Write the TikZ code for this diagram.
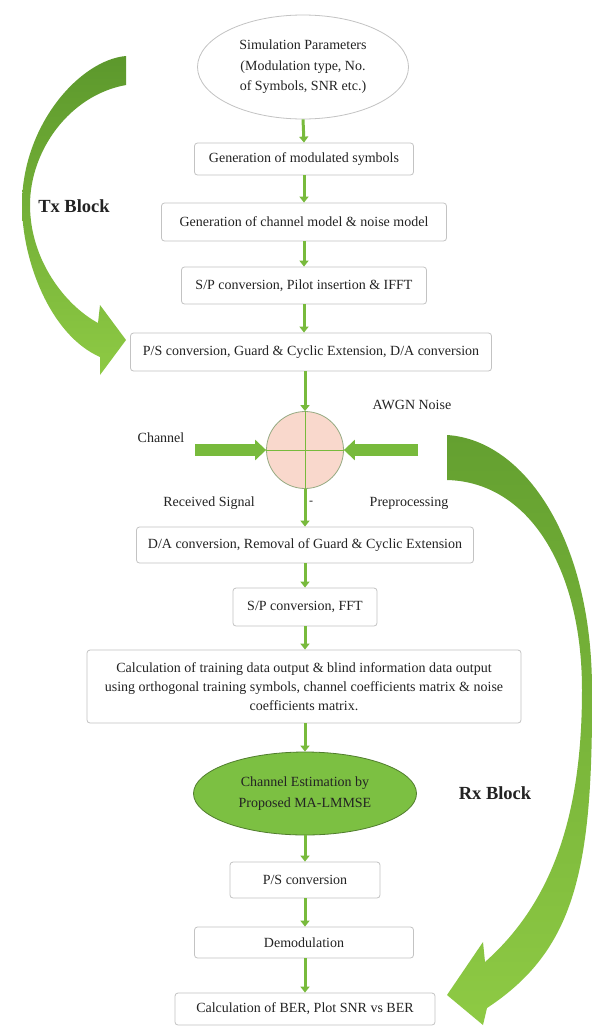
\documentclass[tikz,border=0pt]{standalone}
\usepackage{fontspec}
\setmainfont{Liberation Serif}
\usetikzlibrary{arrows.meta,shapes.geometric}
\definecolor{flowgreen}{RGB}{120,186,60}
\definecolor{txdark}{RGB}{92,152,44}
\definecolor{txlight}{RGB}{142,202,68}
\definecolor{rxdark}{RGB}{100,160,48}
\definecolor{rxlight}{RGB}{142,202,68}
\definecolor{boxline}{RGB}{195,195,195}
\definecolor{sumfill}{RGB}{249,216,204}
\definecolor{sumline}{RGB}{150,170,130}
\definecolor{estfill}{RGB}{124,192,66}
\definecolor{estline}{RGB}{80,125,45}
\definecolor{txt}{RGB}{35,35,35}
\begin{document}
\begin{tikzpicture}[x=1pt,y=-1pt,
  procbox/.style={draw=boxline, line width=0.8pt, rounded corners=3pt, fill=white,
    inner sep=0pt, align=center, text=txt, font=\fontsize{14}{19}\selectfont},
  flow/.style={draw=flowgreen, line width=3pt, -{Triangle[length=6pt,width=9pt]}},
  bigflow/.style={draw=flowgreen, line width=12pt, -{Triangle[length=11pt,width=20pt]}},
  lbl/.style={text=txt, font=\fontsize{14}{16}\selectfont, inner sep=0pt},
  blocklbl/.style={text=txt, font=\fontsize{18.5}{21}\selectfont\bfseries, inner sep=0pt}
]
\useasboundingbox (0,0) rectangle (593,1026);
\fill[white] (0,0) rectangle (593,1026);

% Tx curved arrow
\shade[top color=txdark, bottom color=txlight]
  (126,56) .. controls (80,60) and (22,125) .. (22,205)
  .. controls (22,260) and (50,335) .. (100,357)
  -- (100,375) -- (126,340) -- (100,305) -- (98,323)
  .. controls (65,305) and (30,260) .. (30,205)
  .. controls (30,150) and (70,95) .. (126,85) -- cycle;

% Rx curved arrow
\shade[top color=rxdark, bottom color=rxlight]
  (447,435) .. controls (525,440) and (592,540) .. (592,690)
  .. controls (593,870) and (575,950) .. (487,1008)
  -- (483,1025) -- (447,995) -- (483,942) -- (485,962)
  .. controls (555,900) and (582,810) .. (582,690)
  .. controls (582,570) and (530,482) .. (447,480) -- cycle;

% nodes
\node[draw=boxline, line width=0.8pt, fill=white, ellipse, minimum width=211pt, minimum height=104pt,
  inner sep=0pt, align=center, text=txt, font=\fontsize{14}{20.5}\selectfont] (sim) at (303,67)
  {Simulation Parameters\\(Modulation type, No.\\of Symbols, SNR etc.)};
\node[procbox, minimum width=219pt, minimum height=32pt] (gen1) at (304,159) {Generation of modulated symbols};
\node[procbox, minimum width=285pt, minimum height=38pt] (gen2) at (304,222) {Generation of channel model \& noise model};
\node[procbox, minimum width=245pt, minimum height=37pt] (sp1) at (304,285.5) {S/P conversion, Pilot insertion \& IFFT};
\node[procbox, minimum width=361pt, minimum height=38pt] (ps1) at (311,352) {P/S conversion, Guard \& Cyclic Extension, D/A conversion};

\node[circle, draw=sumline, line width=0.8pt, fill=sumfill, minimum size=77pt, inner sep=0pt] (sum) at (305,450) {};
\draw[flowgreen, line width=1pt] (sum.north) -- (sum.south) (sum.west) -- (sum.east);

\node[procbox, minimum width=337pt, minimum height=36pt] (da) at (305,545) {D/A conversion, Removal of Guard \& Cyclic Extension};
\node[procbox, minimum width=144pt, minimum height=38pt] (sp2) at (305,607) {S/P conversion, FFT};
\node[procbox, minimum width=434pt, minimum height=73pt] (calc) at (304,686.5)
  {Calculation of training data output \& blind information data output\\using orthogonal training symbols, channel coefficients matrix \& noise\\coefficients matrix.};
\node[ellipse, draw=estline, line width=0.8pt, fill=estfill, minimum width=223pt, minimum height=83pt,
  inner sep=0pt, align=center, text=txt, font=\fontsize{14}{21}\selectfont] (est) at (305,793.5)
  {Channel Estimation by\\Proposed MA-LMMSE};
\node[procbox, minimum width=150pt, minimum height=36pt] (ps2) at (305,880) {P/S conversion};
\node[procbox, minimum width=219pt, minimum height=31pt] (demod) at (304,942.5) {Demodulation};
\node[procbox, minimum width=260pt, minimum height=32pt] (ber) at (305,1009) {Calculation of BER, Plot SNR vs BER};

% side inputs
\coordinate (chstart) at (195,450);
\coordinate (awgnstart) at (418,450);
\draw[bigflow] (chstart) -- (sum.west);
\draw[bigflow] (awgnstart) -- (sum.east);

% labels
\node[blocklbl] (txlbl) at (74,206) {Tx Block};
\node[blocklbl] (rxlbl) at (495,793) {Rx Block};
\node[lbl] (chlbl) at (161,438) {Channel};
\node[lbl] (awgnlbl) at (412,405) {AWGN Noise};
\node[lbl] (rxsig) at (209,503) {Received Signal};
\node[lbl] (prelbl) at (409,503) {Preprocessing};
\node[lbl, font=\fontsize{12}{12}\selectfont] (dash) at (311,503) {-};

% connectors
\draw[flow] (sim.south) -- (gen1.north);
\draw[flow] (gen1) -- (gen2);
\draw[flow] (gen2) -- (sp1);
\draw[flow] (sp1.south) -- (sp1.south |- ps1.north);
\draw[flow] (ps1.south -| sum.north) -- (sum.north);
\draw[flow] (sum.south) -- (sum.south |- da.north);
\draw[flow] (da) -- (sp2);
\draw[flow] (sp2) -- (sp2 |- calc.north);
\draw[flow] (calc.south -| est.north) -- (est.north);
\draw[flow] (est) -- (ps2);
\draw[flow] (ps2.south) -- (ps2.south |- demod.north);
\draw[flow] (demod.south -| ber.north) -- (ber.north);
\end{tikzpicture}
\end{document}
